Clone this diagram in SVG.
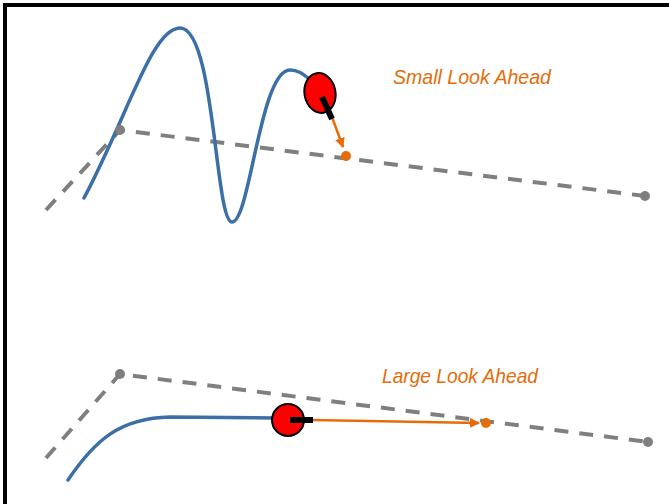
<svg xmlns="http://www.w3.org/2000/svg" width="669" height="504" viewBox="0 0 669 504">
  <defs>
    <marker id="arr" viewBox="0 0 10 10" refX="9" refY="5" markerWidth="4" markerHeight="4" orient="auto" markerUnits="strokeWidth">
      <path d="M0,0 L10,5 L0,10 Z" fill="#E46C0A"/>
    </marker>
    <style>
      .path { fill: none; stroke: #7F7F7F; stroke-width: 4; stroke-dasharray: 14 11; }
      .wp { fill: #7F7F7F; }
      .traj { fill: none; stroke: #3C6FA6; stroke-width: 3.5; stroke-linecap: round; }
      .robot { fill: #FF0000; stroke: #000; stroke-width: 2; }
      .heading { stroke: #000; stroke-width: 6; }
      .look { stroke: #E46C0A; stroke-width: 2.5; fill: none; }
      .target { fill: #E46C0A; }
      .lbl { font-family: "Liberation Sans", Arial, sans-serif; font-style: italic; font-size: 21px; fill: #E46C0A; }
    </style>
  </defs>
  <rect x="0" y="0" width="669" height="504" fill="#fff"/>
  <rect x="5" y="5" width="700" height="540" fill="none" stroke="#000" stroke-width="4"/>

  <g id="connectors">
    <polyline class="path" points="46,210 120,130 645,196"/>
    <polyline class="path" points="46,458 120,374 648,442"/>
    <path class="traj" d="M84,198 C128,115 152,28 180,28 C215,28 215,222 232,222 C250,222 260,70 290,70 C298,70 303,74 308,78"/>
    <path class="traj" d="M68,480 C95,440 120,418 170,417 L275,418"/>
    <line class="look" x1="332" y1="117" x2="343" y2="147" marker-end="url(#arr)"/>
    <line class="look" x1="312" y1="420" x2="479" y2="423" marker-end="url(#arr)"/>
  </g>

  <g id="waypoint-top-1"><circle class="wp" cx="120" cy="130" r="5"/></g>
  <g id="waypoint-top-2"><circle class="wp" cx="645" cy="196" r="5"/></g>
  <g id="waypoint-bottom-1"><circle class="wp" cx="120" cy="374" r="5"/></g>
  <g id="waypoint-bottom-2"><circle class="wp" cx="648" cy="442" r="5"/></g>

  <g id="robot-top">
    <ellipse class="robot" cx="320" cy="93" rx="15.5" ry="20" transform="rotate(-10 320 93)"/>
    <line class="heading" x1="322" y1="97" x2="332" y2="119"/>
  </g>
  <g id="target-top"><circle class="target" cx="346" cy="156" r="5"/></g>

  <g id="robot-bottom">
    <ellipse class="robot" cx="288" cy="420" rx="16" ry="16"/>
    <line class="heading" x1="290" y1="420" x2="313" y2="420"/>
  </g>
  <g id="target-bottom"><circle class="target" cx="486" cy="423" r="5"/></g>

  <g id="label-small"><text class="lbl" x="393" y="84" textLength="158" lengthAdjust="spacingAndGlyphs">Small Look Ahead</text></g>
  <g id="label-large"><text class="lbl" x="382" y="383" textLength="156" lengthAdjust="spacingAndGlyphs">Large Look Ahead</text></g>
</svg>
